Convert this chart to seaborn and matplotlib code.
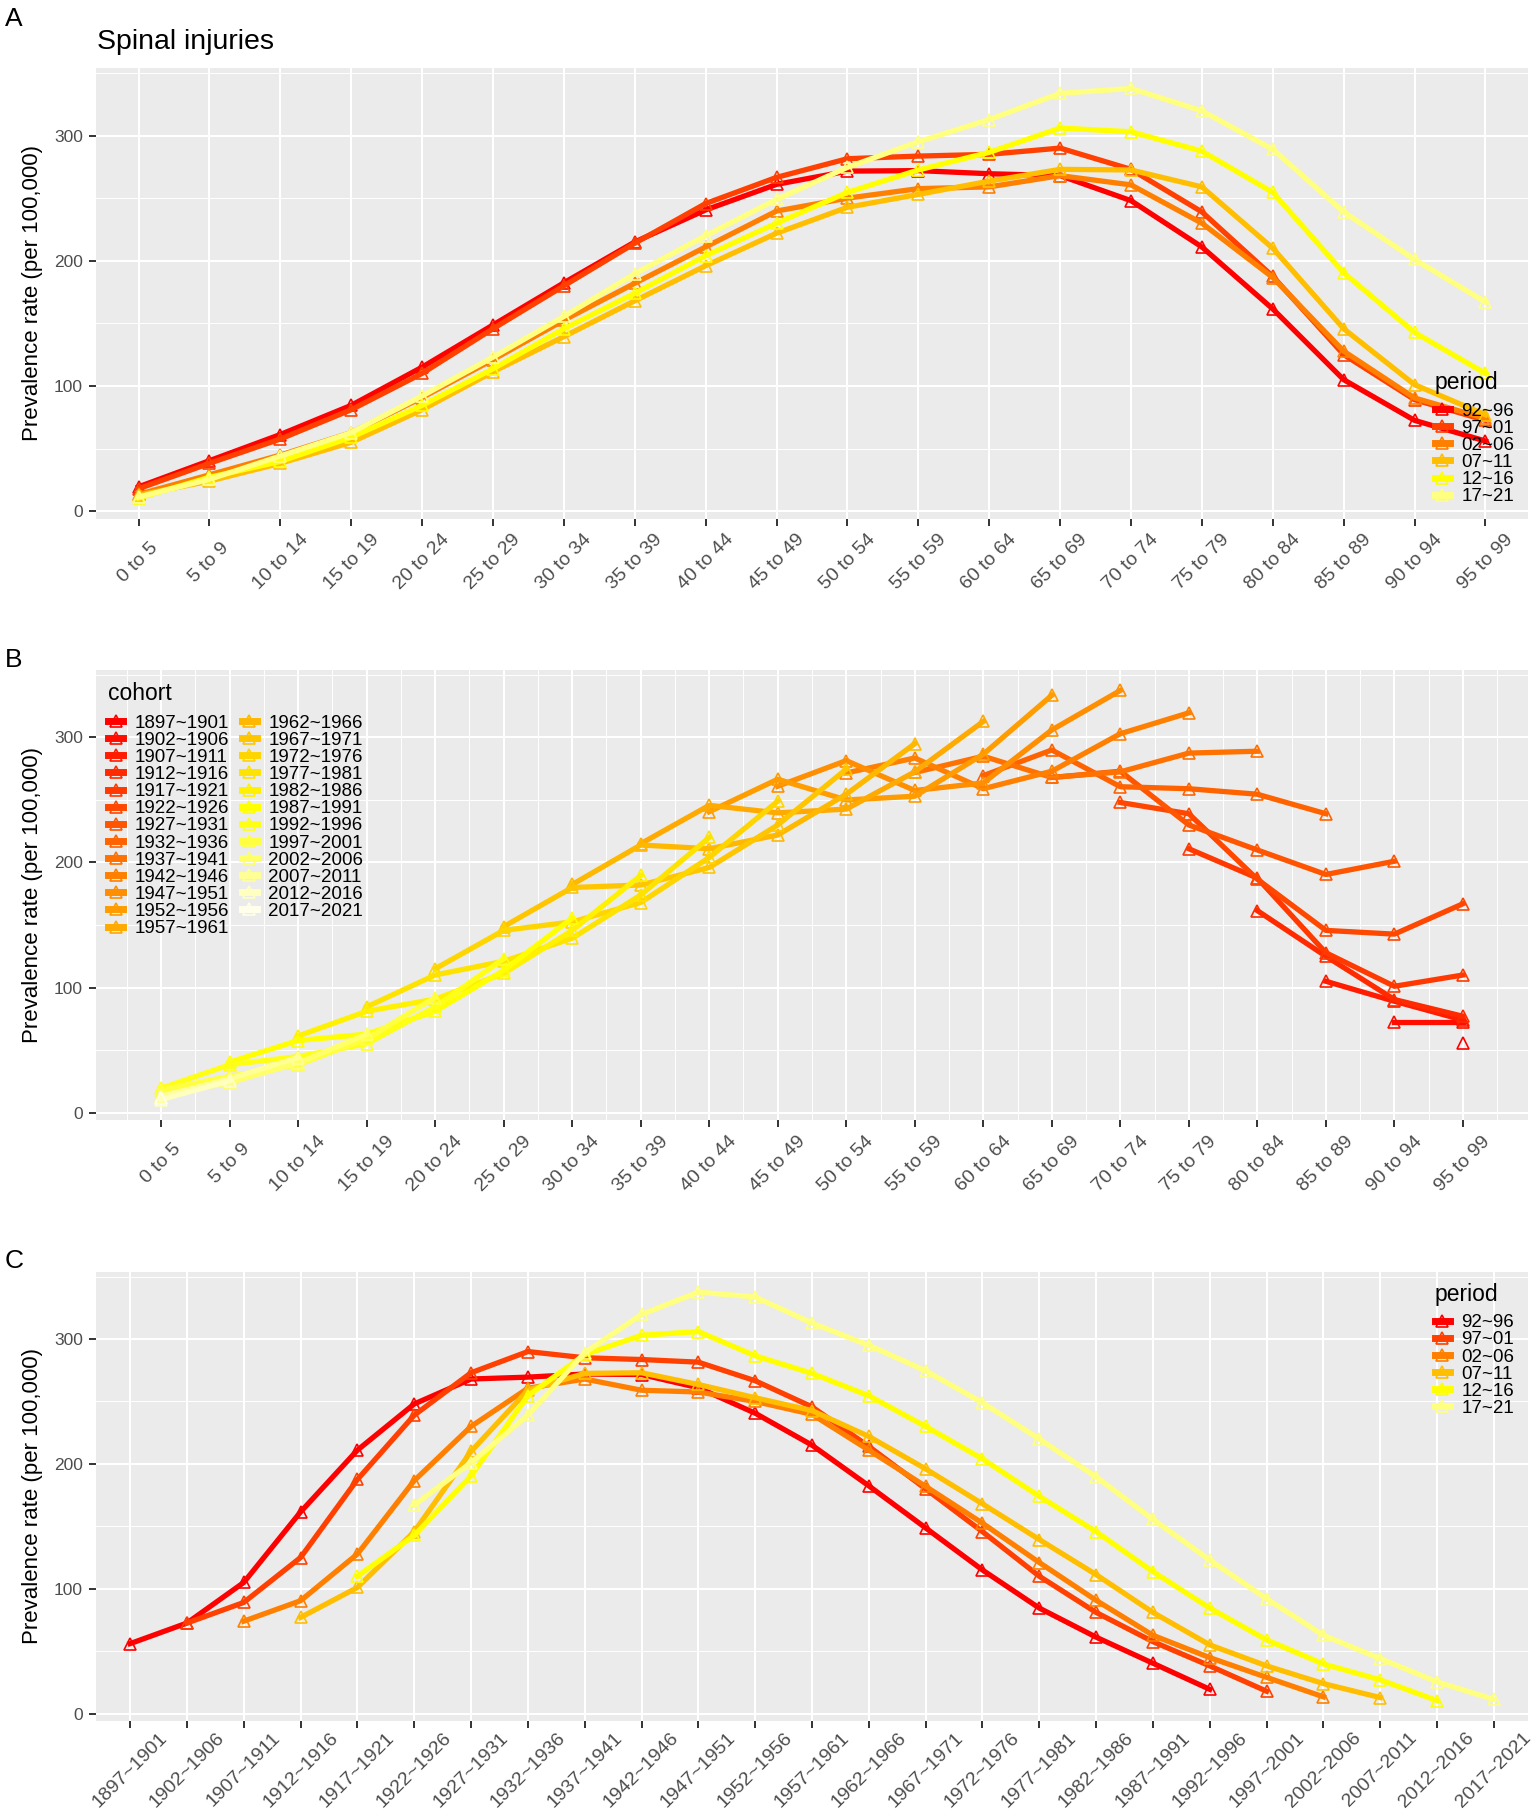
import numpy as np
import pandas as pd
import seaborn as sns
import matplotlib
matplotlib.use("Agg")
import matplotlib.pyplot as plt
from matplotlib.lines import Line2D
from matplotlib.ticker import FixedLocator
import colorsys

plt.rcParams['font.family'] = ['Liberation Sans', 'DejaVu Sans']

# ---------------- data ----------------
age_groups = ['0 to 5', '5 to 9', '10 to 14', '15 to 19', '20 to 24', '25 to 29',
              '30 to 34', '35 to 39', '40 to 44', '45 to 49', '50 to 54', '55 to 59',
              '60 to 64', '65 to 69', '70 to 74', '75 to 79', '80 to 84', '85 to 89',
              '90 to 94', '95 to 99']
periods = ['92~96', '97~01', '02~06', '07~11', '12~16', '17~21']
cohorts = ['1897~1901', '1902~1906', '1907~1911', '1912~1916', '1917~1921',
           '1922~1926', '1927~1931', '1932~1936', '1937~1941', '1942~1946',
           '1947~1951', '1952~1956', '1957~1961', '1962~1966', '1967~1971',
           '1972~1976', '1977~1981', '1982~1986', '1987~1991', '1992~1996',
           '1997~2001', '2002~2006', '2007~2011', '2012~2016', '2017~2021']

# prevalence rate per 100,000 by age group, one list per period
rate_92_96 = [19.4, 40.3, 61.2, 84.5, 115.0, 148.7, 182.4, 215.0, 240.6, 261.0,
              271.6, 272.0, 269.5, 268.0, 248.0, 211.0, 161.5, 105.0, 72.5, 56.0]
rate_97_01 = [17.9, 38.2, 57.6, 81.0, 110.0, 145.7, 180.0, 214.0, 245.7, 266.6,
              281.5, 283.6, 285.0, 290.0, 273.0, 239.0, 187.5, 125.0, 89.0, 72.5]
rate_02_06 = [13.4, 29.0, 44.8, 62.7, 90.7, 121.0, 152.5, 182.0, 211.0, 239.7,
              250.0, 257.6, 259.0, 268.0, 260.6, 230.0, 186.6, 127.8, 90.4, 74.0]
rate_07_11 = [12.8, 24.0, 38.2, 55.0, 81.0, 111.3, 139.4, 168.0, 196.0, 222.0,
              242.7, 253.0, 263.6, 273.0, 272.5, 259.0, 210.0, 145.7, 101.0, 77.0]
rate_12_16 = [10.4, 27.0, 39.7, 59.0, 84.5, 113.7, 145.7, 174.0, 204.0, 230.0,
              254.6, 272.5, 286.6, 306.0, 303.0, 287.5, 254.6, 190.4, 142.7, 110.0]
rate_17_21 = [11.3, 25.4, 44.0, 62.7, 92.0, 123.0, 155.5, 189.6, 220.0, 249.0,
              274.6, 295.0, 312.8, 333.7, 337.6, 319.7, 289.0, 239.0, 201.0, 167.0]
rates = [rate_92_96, rate_97_01, rate_02_06, rate_07_11, rate_12_16, rate_17_21]

rows = []
n_age = len(age_groups)
for p, vals in enumerate(rates):
    for a, v in enumerate(vals):
        c = p - a + (n_age - 1)
        rows.append(dict(period=periods[p], age_idx=a, age=age_groups[a],
                         cohort=cohorts[c], cohort_idx=c, rate=v))
df = pd.DataFrame(rows)


def heat_colors(n):
    j = n // 4
    i = n - j
    cols = []
    for k in range(i):
        h = (1 / 6) * k / (i - 1) if i > 1 else 0.0
        cols.append(colorsys.hsv_to_rgb(h, 1, 1))
    if j > 0:
        s0, s1 = 1 - 1 / (2 * j), 1 / (2 * j)
        for k in range(j):
            s = s0 + (s1 - s0) * (k / (j - 1) if j > 1 else 0)
            cols.append(colorsys.hsv_to_rgb(1 / 6, s, 1))
    return cols


pal_period = heat_colors(len(periods))
pal_cohort = heat_colors(len(cohorts))

# ---------------- figure ----------------
W, H = 1535, 1816
fig = plt.figure(figsize=(W / 100, H / 100), dpi=100)

left = 96 / W
width = 1432 / W


def add_axes(top_px, bot_px):
    return fig.add_axes([left, 1 - bot_px / H, width, (bot_px - top_px) / H])


axA = add_axes(68, 518.6)
axB = add_axes(670, 1120)
axC = add_axes(1271.7, 1721)

LW = 3.8
MS = 8.4
MEW = 1.2


def draw(ax, x, hue, order, pal):
    sns.lineplot(data=df, x=x, y='rate', hue=hue, hue_order=order, palette=pal,
                 marker='^', markersize=MS, linewidth=LW, errorbar=None,
                 legend=False, ax=ax)
    for ln in ax.lines:
        ln.set_markerfacecolor('none')
        ln.set_markeredgecolor(ln.get_color())
        ln.set_markeredgewidth(MEW)


def style(ax, labels, xpad, minor_x=False):
    ax.set_facecolor('#EBEBEB')
    for s in ax.spines.values():
        s.set_visible(False)
    ax.set_xticks(range(len(labels)))
    ax.set_xticklabels(labels, rotation=45, ha='center', va='center')
    ax.set_yticks([0, 100, 200, 300])
    ax.yaxis.set_minor_locator(FixedLocator([50, 150, 250, 350]))
    if minor_x:
        ax.xaxis.set_minor_locator(FixedLocator(np.arange(-0.5, len(labels) + 0.5, 1)))
    ax.tick_params(axis='both', which='major', length=5, width=1.4,
                   color='#333333', labelcolor='#4D4D4D')
    ax.tick_params(axis='x', which='major', labelsize=14, pad=xpad)
    ax.tick_params(axis='y', which='major', labelsize=12.5, pad=4.5)
    ax.tick_params(axis='both', which='minor', length=0)
    ax.grid(which='major', color='white', linewidth=1.5)
    ax.grid(which='minor', axis='both' if minor_x else 'y', color='white', linewidth=0.7)
    ax.set_axisbelow(True)
    ax.set_xlabel('')
    ax.set_ylabel('Prevalence rate (per 100,000)', fontsize=16, color='black')
    ax.yaxis.set_label_coords(-0.037, 0.5)


def legend(ax, labels, colors, title, ncol, x_px, top_px, title_y_px, ax_top, ax_bot,
           colsp=1.0, lsp=0.0):
    hnd = [Line2D([], [], color=c, linewidth=5, marker='^', markersize=MS,
                  markerfacecolor='none', markeredgecolor=c, markeredgewidth=MEW)
           for c in colors]
    hpx = ax_bot - ax_top
    leg = ax.legend(hnd, labels, loc='upper left',
                    bbox_to_anchor=((x_px - 96) / 1432, (ax_bot - top_px) / hpx),
                    ncol=ncol, frameon=False, fontsize=13.5, labelspacing=lsp,
                    handlelength=0.8, handletextpad=0.6, columnspacing=colsp,
                    borderpad=0, borderaxespad=0)
    ax.text((x_px - 96) / 1432, (ax_bot - title_y_px) / hpx, title,
            transform=ax.transAxes, ha='left', va='center', fontsize=16.5, color='black')
    return leg


# Panel A
draw(axA, 'age_idx', 'period', periods, pal_period)
style(axA, age_groups, xpad=26.4)
axA.set_xlim(-0.6, len(age_groups) - 0.4)
legend(axA, periods, pal_period, 'period', 1, 1435, 402.5, 382, 68, 518.6)

# Panel B
draw(axB, 'age_idx', 'cohort', cohorts, pal_cohort)
style(axB, age_groups, xpad=26.4, minor_x=True)
axB.set_xlim(-0.95, len(age_groups) - 1 + 0.95)
legend(axB, cohorts, pal_cohort, 'cohort', 2, 108, 714.5, 693, 670, 1120,
       colsp=0.7, lsp=0.0)

# Panel C
draw(axC, 'cohort_idx', 'period', periods, pal_period)
style(axC, cohorts, xpad=30.2)
axC.set_xlim(-0.6, len(cohorts) - 0.4)
legend(axC, periods, pal_period, 'period', 1, 1435, 1314.2, 1295, 1271.7, 1721)

# labels
fig.text(5 / W, 1 - 26 / H, 'A', fontsize=19, ha='left', va='baseline')
fig.text(5 / W, 1 - 667 / H, 'B', fontsize=19, ha='left', va='baseline')
fig.text(5 / W, 1 - 1268 / H, 'C', fontsize=19, ha='left', va='baseline')
fig.text(97 / W, 1 - 49 / H, 'Spinal injuries', fontsize=20.5, ha='left', va='baseline')

fig.savefig('out.png', dpi=100)
